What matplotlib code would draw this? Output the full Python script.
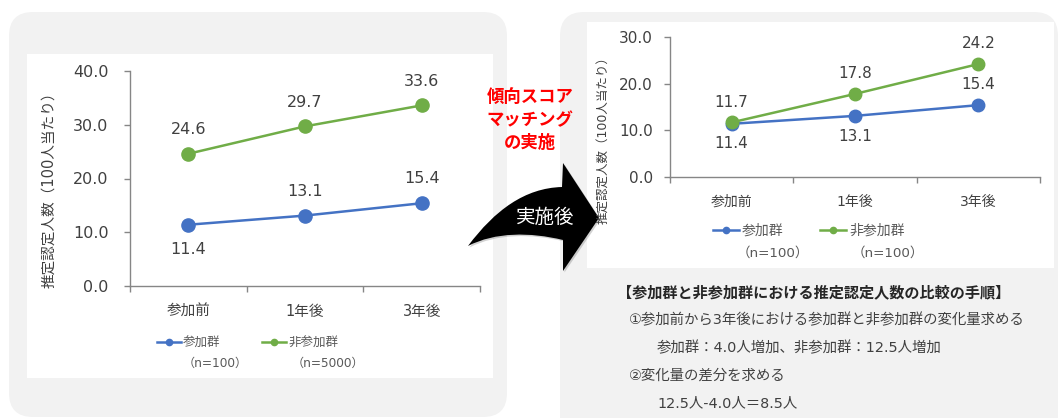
import matplotlib.pyplot as plt
from matplotlib.patches import FancyBboxPatch, Rectangle, PathPatch
from matplotlib.path import Path
from matplotlib.lines import Line2D
from matplotlib.transforms import Affine2D

plt.rcParams['font.family'] = ['DejaVu Sans', 'Noto Sans CJK JP']

# ---------- data ----------
categories = ['参加前', '1年後', '3年後']
yticks_before = [0, 10, 20, 30, 40]
yticks_after = [0, 10, 20, 30]

# before matching
before_part = [11.4, 13.1, 15.4]
before_nonpart = [24.6, 29.7, 33.6]
before_n = ['（n=100）', '（n=5000）']

# after matching
after_part = [11.4, 13.1, 15.4]
after_nonpart = [11.7, 17.8, 24.2]
after_n = ['（n=100）', '（n=100）']

series_names = ['参加群', '非参加群']
ylabel = '推定認定人数（100人当たり）'

BLUE = '#4472C4'
GREEN = '#70AD47'
TXT = '#404040'
AXC = '#868686'

W, H = 1063, 418
fig = plt.figure(figsize=(W / 100, H / 100), dpi=100)

# background in pixel coords
bg = fig.add_axes([0, 0, 1, 1])
bg.set_xlim(0, W)
bg.set_ylim(H, 0)
bg.axis('off')

bg.add_patch(FancyBboxPatch((9, 12), 498, 405, boxstyle='round,pad=0,rounding_size=24',
                            fc='#f2f2f2', ec='none'))
bg.add_patch(FancyBboxPatch((560, 12), 498, 430, boxstyle='round,pad=0,rounding_size=24',
                            fc='#f2f2f2', ec='none'))
bg.add_patch(Rectangle((27, 54), 466, 324, fc='white', ec='none'))
bg.add_patch(Rectangle((587, 22), 467, 246, fc='white', ec='none'))

# curved arrow
verts = [(468, 246),
         (495, 210), (525, 188), (562, 187),
         (563, 163), (599, 218), (563, 271), (563, 240),
         (530, 232), (495, 232), (468, 246),
         (468, 246)]
codes = [Path.MOVETO,
         Path.CURVE4, Path.CURVE4, Path.CURVE4,
         Path.LINETO, Path.LINETO, Path.LINETO, Path.LINETO,
         Path.CURVE4, Path.CURVE4, Path.CURVE4,
         Path.CLOSEPOLY]
bg.add_patch(PathPatch(Path(verts, codes), fc='#7f7f7f', ec='none', alpha=0.35,
                       transform=bg.transData + Affine2D().translate(1.5, -1.5)))
bg.add_patch(PathPatch(Path(verts, codes), fc='black', ec='none'))
bg.text(545, 217, '実施後', color='white', fontsize=14, ha='center', va='center')
bg.text(530, 120, '傾向スコア\nマッチング\nの実施', color='#ff0000', fontsize=12.5,
        fontweight='bold', ha='center', va='center', linespacing=1.35)

# procedure text
bg.text(617, 293, '【参加群と非参加群における推定認定人数の比較の手順】', fontsize=10.9,
        fontweight='bold', color='#262626', va='center')
bg.text(629, 320, '①参加前から3年後における参加群と非参加群の変化量求める', fontsize=10.4,
        color=TXT, va='center')
bg.text(657, 348, '参加群：4.0人増加、非参加群：12.5人増加', fontsize=10.4, color=TXT, va='center')
bg.text(629, 376, '②変化量の差分を求める', fontsize=10.4, color=TXT, va='center')
bg.text(657, 403, '12.5人-4.0人＝8.5人', fontsize=10.4, color=TXT, va='center')


def draw_chart(rect, part, nonpart, yticks, pos_part, pos_nonpart, off, tfs, ms, tickpad,
               ylab_xy, ylab_fs, leg_xy, leg_fs, leg_hl, leg_cs, n_labels, n_xy):
    ax = fig.add_axes(rect)
    ax.set_facecolor('none')
    x = range(len(categories))
    ax.plot(x, part, color=BLUE, lw=1.8, marker='o', ms=ms, zorder=3)
    ax.plot(x, nonpart, color=GREEN, lw=1.8, marker='o', ms=ms, zorder=3)
    for vals, pos in ((part, pos_part), (nonpart, pos_nonpart)):
        for i, v in enumerate(vals):
            dy = off if pos[i] == 'up' else -off
            ax.annotate(f'{v:.1f}', (i, v), xytext=(0, dy), textcoords='offset points',
                        ha='center', va='center', fontsize=tfs, color=TXT)
    ax.set_xlim(-0.5, len(categories) - 0.5)
    ax.set_ylim(yticks[0], yticks[-1])
    ax.set_yticks(yticks)
    ax.set_yticklabels([f'{t:.1f}' for t in yticks])
    ax.set_xticks(list(x))
    ax.set_xticklabels(categories)
    ax.set_xticks([i - 0.5 for i in range(len(categories) + 1)], minor=True)
    ax.tick_params(axis='x', which='major', length=0, pad=13, labelsize=tfs - 1, labelcolor=TXT)
    ax.tick_params(axis='x', which='minor', length=4.5, color=AXC, width=1)
    ax.tick_params(axis='y', length=4.5, color=AXC, width=1, pad=tickpad,
                   labelsize=tfs, labelcolor=TXT)
    for s in ('top', 'right'):
        ax.spines[s].set_visible(False)
    for s in ('left', 'bottom'):
        ax.spines[s].set_color(AXC)
        ax.spines[s].set_linewidth(1)
    ax.set_ylabel(ylabel, fontsize=ylab_fs, color=TXT)
    ax.yaxis.set_label_coords(*ylab_xy)

    handles = [Line2D([], [], color=BLUE, lw=1.8, marker='o', ms=4.5),
               Line2D([], [], color=GREEN, lw=1.8, marker='o', ms=4.5)]
    ax.legend(handles, series_names, ncol=2, frameon=False, loc='center left',
              bbox_to_anchor=leg_xy, borderaxespad=0, borderpad=0, fontsize=leg_fs,
              handlelength=leg_hl, handletextpad=0.2, columnspacing=leg_cs,
              labelcolor='#595959')
    for lab, (nx, ny) in zip(n_labels, n_xy):
        ax.text(nx, ny, lab, transform=ax.transAxes, ha='center', va='center',
                fontsize=leg_fs - 0.3, color='#595959')
    return ax


# left chart: axes x 130-480, y 71-286 px
draw_chart([130 / W, (H - 286) / H, 350 / W, 215 / H],
           before_part, before_nonpart, yticks_before,
           ['down', 'up', 'up'], ['up', 'up', 'up'], 17.5, 11.5, 9.5, 11,
           ((56 - 130) / 350, 0.465), 10.5,
           ((157 - 130) / 350, (286 - 343) / 215), 9, 1.9, 3.3,
           before_n, [((215 - 130) / 350, (286 - 363) / 215),
                      ((328 - 130) / 350, (286 - 363) / 215)])

# right chart: axes x 670-1040, y 37-177 px
draw_chart([670 / W, (H - 177) / H, 370 / W, 140 / H],
           after_part, after_nonpart, yticks_after,
           ['down', 'down', 'up'], ['up', 'up', 'up'], 14.5, 11, 9, 8,
           ((609 - 670) / 370, 0.286), 9,
           ((713 - 670) / 370, (177 - 231) / 140), 10, 1.9, 2.6,
           after_n, [((773 - 670) / 370, (177 - 253) / 140),
                     ((888 - 670) / 370, (177 - 253) / 140)])

fig.savefig('out.png', dpi=100)
